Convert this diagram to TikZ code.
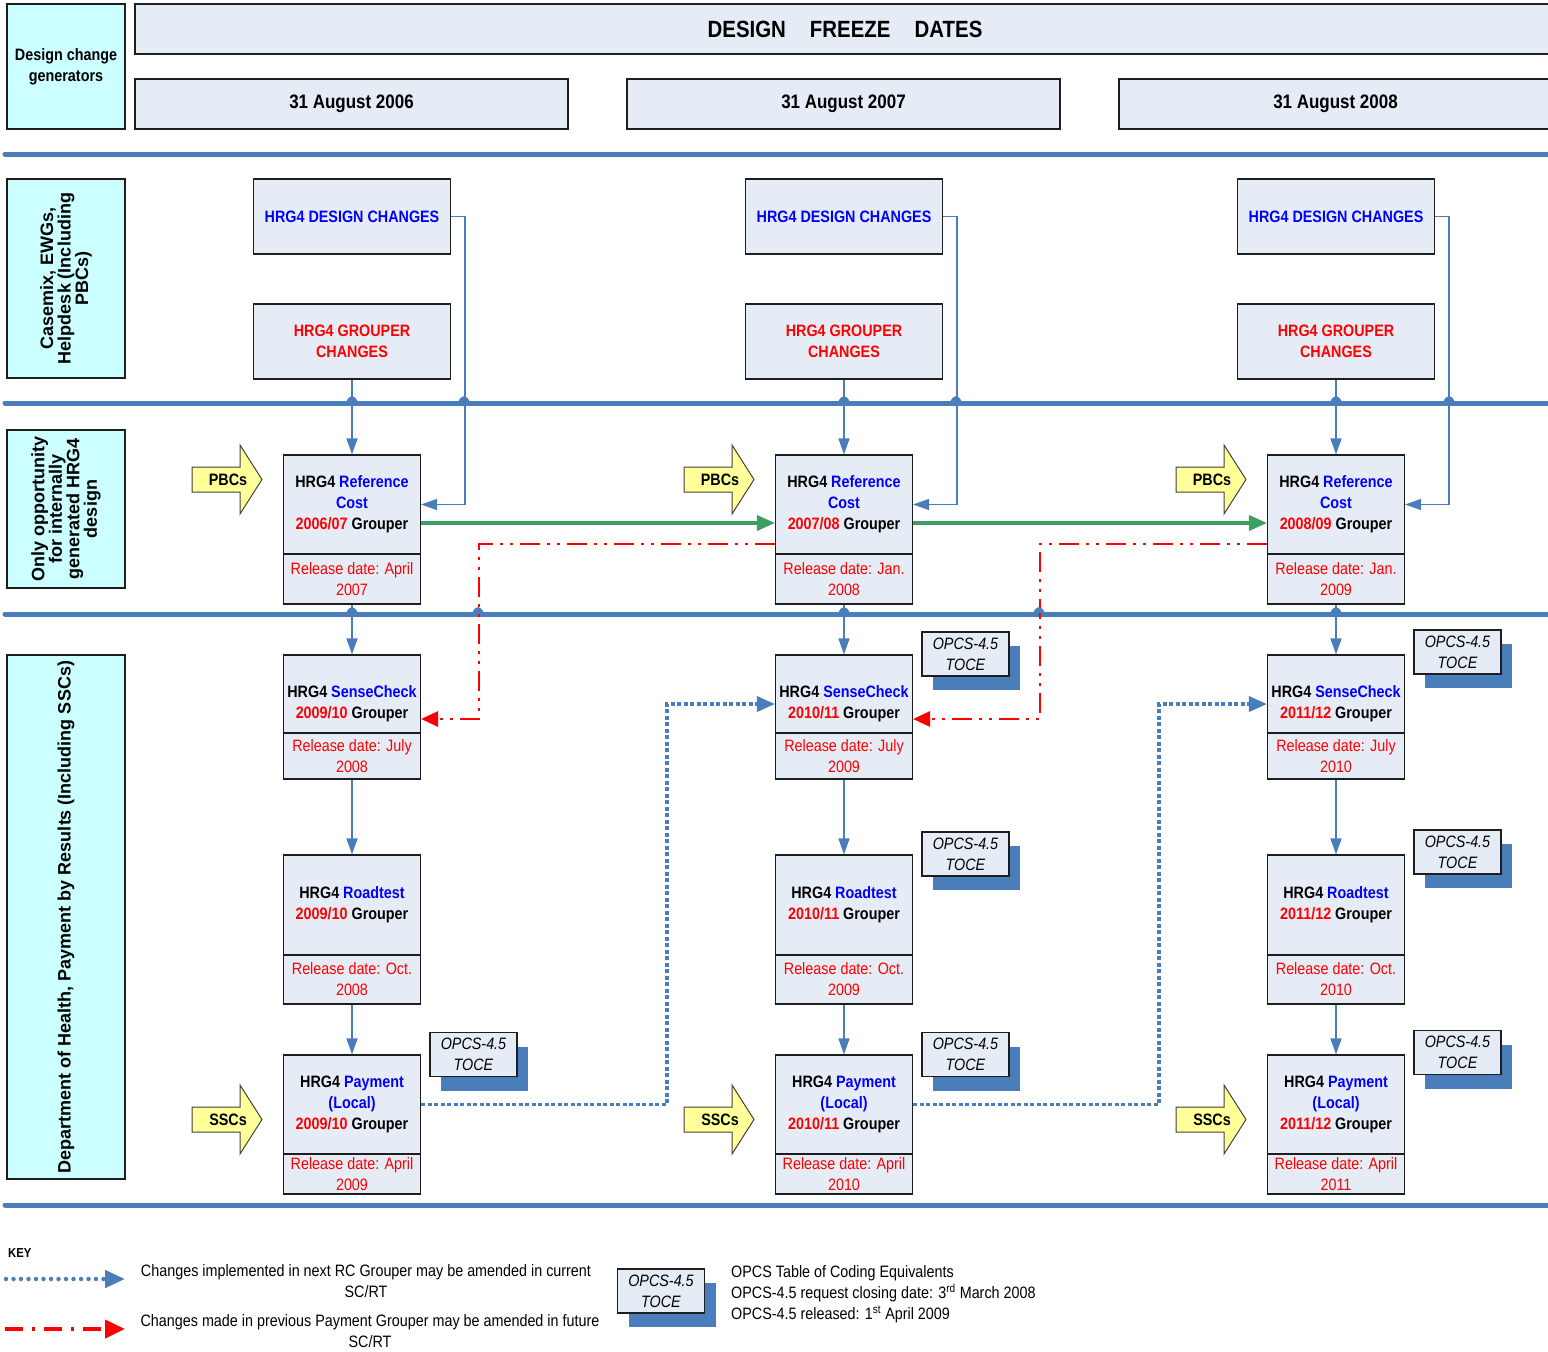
\documentclass[tikz,border=0pt]{standalone}
\usepackage{fontspec}
\setmainfont{Liberation Sans}[FakeStretch=0.87]
\newfontfamily\lanefont{Liberation Sans}
\usetikzlibrary{arrows.meta,shadows}
\definecolor{lineblue}{RGB}{74,126,187}
\definecolor{boxfill}{RGB}{230,236,246}
\definecolor{lanecyan}{RGB}{204,255,255}
\definecolor{pyellow}{RGB}{255,255,153}
\definecolor{dgreen}{RGB}{60,158,96}
\definecolor{tblue}{RGB}{0,0,255}
\definecolor{tred}{RGB}{255,0,0}
\definecolor{edge}{RGB}{30,30,30}
\begin{document}
\begin{tikzpicture}[x=1pt,y=-1pt,
  f16/.style={font=\fontsize{16.5}{21}\selectfont},
  b16/.style={font=\bfseries\fontsize{16.5}{21}\selectfont},
  box/.style={draw=edge, fill=boxfill, line width=1.1pt, inner sep=0pt, align=center, f16},
  cyanbox/.style={draw=edge, fill=lanecyan, line width=1.1pt, inner sep=0pt, align=center, b16},
  lane/.style={draw=edge, fill=lanecyan, line width=1.1pt, inner sep=0pt, align=center,
    font=\lanefont\bfseries\fontsize{18}{17.5}\selectfont},
  sep/.style={line width=5pt, draw=lineblue, line cap=round},
  conn/.style={draw=lineblue, line width=1.4pt, -{Triangle[length=16pt,width=11pt]}},
  gconn/.style={draw=dgreen, line width=3.5pt, -{Triangle[length=18pt,width=15pt]}},
  rconn/.style={draw=tred, line width=2.8pt, dash pattern=on 20pt off 7pt on 3pt off 7pt on 3pt off 7pt,
    -{Triangle[length=17pt,width=15pt]}},
  bconn/.style={draw=lineblue, line width=3.5pt, dash pattern=on 4pt off 2.5pt,
    -{Triangle[length=18pt,width=15pt]}},
  yarrow/.style={draw=black!75, fill=pyellow, line width=1pt, line join=miter},
  opcs/.style={box, font=\itshape\fontsize{16.5}{21}\selectfont, minimum width=87pt, minimum height=44pt,
    drop shadow={shadow xshift=11pt, shadow yshift=-14pt, fill=lineblue, opacity=1}},
  hop/.style={fill=lineblue}
]
\useasboundingbox (0,0) rectangle (1548,1352);
\clip (0,0) rectangle (1548,1352);

% header
\node[cyanbox, minimum width=118pt, minimum height=125pt] (dcg) at (66,66.5) {Design change\\generators};
\node[box, font=\bfseries\fontsize{23.5}{26}\selectfont, minimum width=1420pt, minimum height=50pt] (title) at (845,29)
  {DESIGN\hspace{24pt}FREEZE\hspace{24pt}DATES};
\foreach \c/\x/\d in {1/351.5/2006, 2/843.5/2007, 3/1335.5/2008}
  \node[box, font=\bfseries\fontsize{19.5}{22}\selectfont, minimum width=433pt, minimum height=50pt] (date\c) at (\x,104)
    {31 August \d};

% separators
\draw[sep] (5,154) -- (1560,154);
\draw[sep] (5,403) -- (1560,403);
\draw[sep] (5,614) -- (1560,614);
\draw[sep] (5,1205) -- (1560,1205);

% lane labels
\node[lane, rotate=90, minimum width=199pt, minimum height=118pt] (lane1) at (66,278.5)
  {Casemix, EWGs,\\Helpdesk (Including\\PBCs)};
\node[lane, rotate=90, minimum width=158pt, minimum height=118pt] (lane2) at (66,509)
  {Only opportunity\\for internally\\generated HRG4\\design};
\node[lane, rotate=90, minimum width=524pt, minimum height=118pt] (lane3) at (66,917)
  {Department of Health, Payment by Results (Including SSCs)};

% columns
\foreach \c/\x/\yA/\yB/\mon/\ryr/\gA/\gB/\yy/\yn in
  {1/352/2006/07/April/2007/2009/10/2008/2009,
   2/844/2007/08/Jan./2008/2010/11/2009/2010,
   3/1336/2008/09/Jan./2009/2011/12/2010/2011} {
  \node[box, b16, text=tblue, minimum width=197pt, minimum height=75pt] (des\c) at (\x,216.5) {HRG4 DESIGN CHANGES};
  \node[box, b16, text=tred, minimum width=197pt, minimum height=75pt] (gc\c) at (\x,341.5) {HRG4 GROUPER\\CHANGES};
  \node[box, b16, minimum width=137pt, minimum height=99pt] (refu\c) at (\x,504.5)
    {HRG4 \textcolor{tblue}{Reference}\\\textcolor{tblue}{Cost}\\\textcolor{tred}{\yA/\yB} Grouper};
  \node[box, text=tred, minimum width=137pt, minimum height=50pt] (refl\c) at (\x,579) {Release date: \mon\\\ryr};
  \node[box, minimum width=137pt, minimum height=78pt] (scu\c) at (\x,694) {};
  \node[b16, align=center, inner sep=0pt] (sct\c) at (\x,703.5)
    {HRG4 \textcolor{tblue}{SenseCheck}\\\textcolor{tred}{\gA/\gB} Grouper};
  \node[box, text=tred, minimum width=137pt, minimum height=46pt] (scl\c) at (\x,756) {Release date: July\\\yy};
  \node[box, b16, minimum width=137pt, minimum height=100pt] (rtu\c) at (\x,905)
    {HRG4 \textcolor{tblue}{Roadtest}\\\textcolor{tred}{\gA/\gB} Grouper};
  \node[box, text=tred, minimum width=137pt, minimum height=49pt] (rtl\c) at (\x,979.5) {Release date: Oct.\\\yy};
  \node[box, b16, minimum width=137pt, minimum height=99pt] (payu\c) at (\x,1104.5)
    {HRG4 \textcolor{tblue}{Payment}\\\textcolor{tblue}{(Local)}\\\textcolor{tred}{\gA/\gB} Grouper};
  \node[box, text=tred, minimum width=137pt, minimum height=40pt] (payl\c) at (\x,1174) {Release date: April\\\yn};
  % yellow arrows
  \draw[yarrow] (\x-160,467) -- (\x-112,467) -- (\x-112,445) -- (\x-90,479.5) -- (\x-112,514)
    -- (\x-112,492) -- (\x-160,492) -- cycle;
  \node[b16, inner sep=0pt] (pbc\c) at (\x-124,479.5) {PBCs};
  \draw[yarrow] (\x-160,1107) -- (\x-112,1107) -- (\x-112,1085) -- (\x-90,1119.5) -- (\x-112,1154)
    -- (\x-112,1132) -- (\x-160,1132) -- cycle;
  \node[b16, inner sep=0pt] (ssc\c) at (\x-124,1119.5) {SSCs};
  % connectors
  \draw[conn] (gc\c.south) -- (refu\c.north);
  \draw[conn] (des\c.east) -| ([xshift=44pt]refu\c.east) -- (refu\c.east);
  \draw[conn] (refl\c.south) -- (scu\c.north);
  \draw[conn] (scl\c.south) -- (rtu\c.north);
  \draw[conn] (rtl\c.south) -- (payu\c.north);
}

% OPCS boxes
\node[opcs] (op1p) at (473.5,1054.5) {OPCS-4.5\\TOCE};
\node[opcs] (op2s) at (965.5,654) {OPCS-4.5\\TOCE};
\node[opcs] (op2r) at (965.5,854) {OPCS-4.5\\TOCE};
\node[opcs] (op2p) at (965.5,1054.5) {OPCS-4.5\\TOCE};
\node[opcs] (op3s) at (1457.5,652) {OPCS-4.5\\TOCE};
\node[opcs] (op3r) at (1457.5,852) {OPCS-4.5\\TOCE};
\node[opcs] (op3p) at (1457.5,1052.5) {OPCS-4.5\\TOCE};

% cross-column connectors
\foreach \a/\b/\rx in {1/2/58, 2/3/127} {
  \draw[gconn] ([yshift=-18.5pt]refu\a.east) -- ([yshift=-18.5pt]refu\b.west);
  \draw[rconn] ([yshift=-39.5pt]refu\b.west) -| ([xshift=\rx pt, yshift=-25pt]scu\a.east) -- ([yshift=-25pt]scu\a.east);
  \draw[bconn] (payu\a.east) -| ([xshift=-108pt, yshift=-10pt]scu\b.west) -- ([yshift=-10pt]scu\b.west);
}

% line hops
\foreach \hx in {352,464,844,956,1336,1449}
  \fill[hop] (\hx-6,402) .. controls (\hx-2,394) and (\hx+2,394) .. (\hx+6,402) -- cycle;
\foreach \hx in {352,478,844,1039,1336}
  \fill[hop] (\hx-6,613) .. controls (\hx-2,605) and (\hx+2,605) .. (\hx+6,613) -- cycle;

% key
\node[font=\bfseries\fontsize{13}{14}\selectfont, anchor=west, inner sep=0pt] (key) at (8,1253) {KEY};
\coordinate (kb1) at (6,1279);
\coordinate (kb2) at (125,1279);
\draw[draw=lineblue, line width=4.5pt, line cap=round, dash pattern=on 0pt off 7.5pt,
  -{Triangle[length=20pt,width=17pt]}] (kb1) -- (kb2);
\node[f16, align=center, inner sep=0pt] (kt1) at (366,1281)
  {Changes implemented in next RC Grouper may be amended in current\\SC/RT};
\coordinate (kr1) at (5,1329);
\coordinate (kr2) at (125,1329);
\draw[draw=tred, line width=4pt, dash pattern=on 18pt off 9pt on 3pt off 9pt,
  -{Triangle[length=20pt,width=18pt]}] (kr1) -- (kr2);
\node[f16, align=center, inner sep=0pt] (kt2) at (370,1331)
  {Changes made in previous Payment Grouper may be amended in future\\SC/RT};
\node[opcs] (opk) at (661,1291) {OPCS-4.5\\TOCE};
\node[f16, align=left, anchor=west, inner sep=0pt] (kt3) at (731,1294)
  {OPCS Table of Coding Equivalents\\OPCS-4.5 request closing date: 3\textsuperscript{rd} March 2008\\OPCS-4.5 released: 1\textsuperscript{st} April 2009};
\end{tikzpicture}
\end{document}
